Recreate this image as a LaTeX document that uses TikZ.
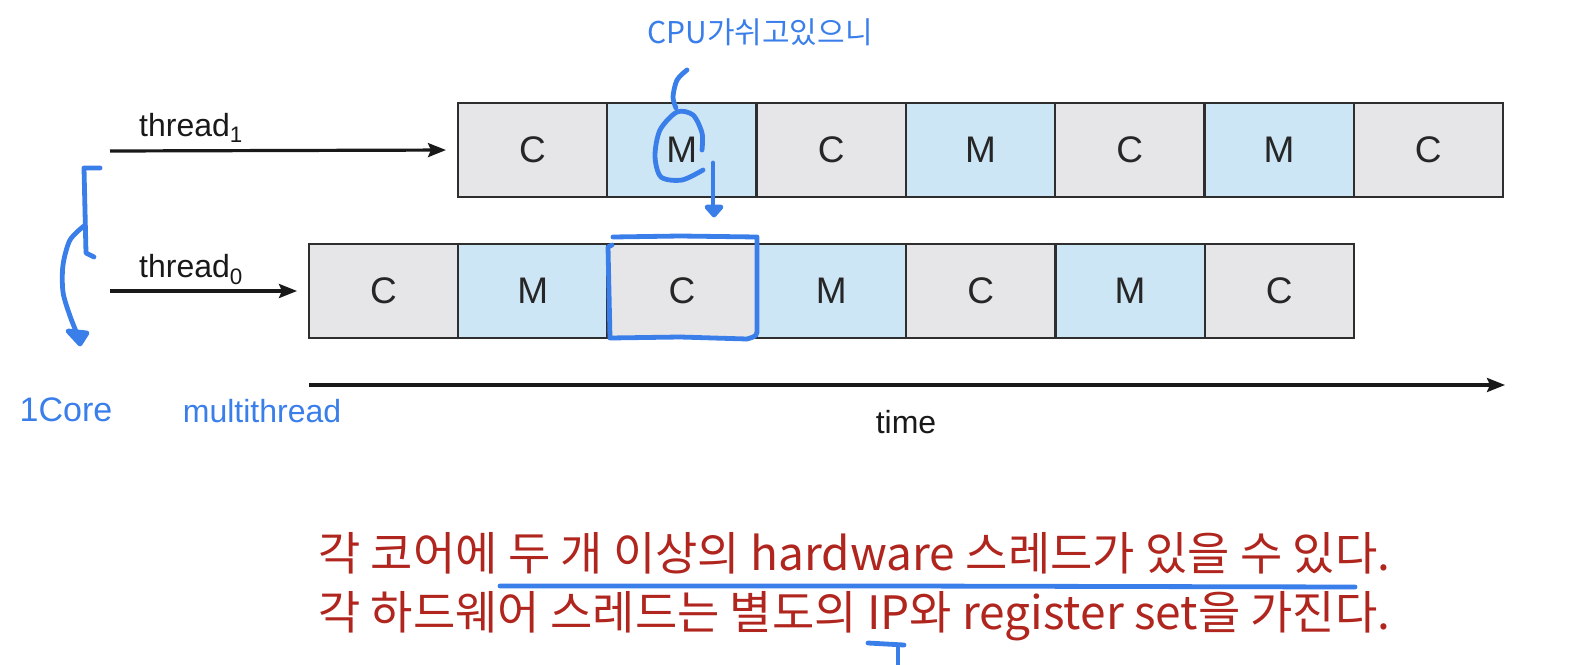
\documentclass[tikz,border=0pt]{standalone}
\usepackage{fontspec}
\setmainfont{Liberation Sans}
\newfontfamily\kr{Noto Sans CJK KR}
\usetikzlibrary{arrows.meta}
\definecolor{cboxc}{HTML}{E6E6E8}
\definecolor{mboxc}{HTML}{CDE6F6}
\definecolor{edgec}{HTML}{2E2E2E}
\definecolor{penblue}{HTML}{3A7EEA}
\definecolor{krred}{HTML}{B0261E}
\begin{document}
\begin{tikzpicture}[x=1pt,y=-1pt,
  cell/.style={draw=edgec,line width=2pt,minimum width=149pt,minimum height=94pt,inner sep=0pt,
    font=\fontsize{37}{40}\selectfont,text=black!85},
  cellC/.style={cell,fill=cboxc},
  cellM/.style={cell,fill=mboxc},
  tarrow/.style={line width=3.2pt,draw=black!90,-{Stealth[length=18pt,width=14pt,inset=3pt]}},
  tlabel/.style={font=\fontsize{32}{36}\selectfont,text=black!90,inner sep=0pt},
  hand/.style={draw=penblue,line width=4.8pt,line cap=round,line join=round},
  handtext/.style={text=penblue,inner sep=0pt},
  krtext/.style={font=\kr\fontsize{46}{52}\selectfont,text=krred,inner sep=0pt,anchor=base west}
]
\useasboundingbox (0,0) rectangle (1571,664);

% thread1 row
\foreach \i/\t in {1/C,2/M,3/C,4/M,5/C,6/M,7/C}{
  \node[cell\t] (a\i) at ({458+149.3*(\i-1)+74.5},150) {\t};
}
% thread0 row
\foreach \i/\t in {1/C,2/M,3/C,4/M,5/C,6/M,7/C}{
  \node[cell\t] (b\i) at ({309+149.3*(\i-1)+74.5},291) {\t};
}

% thread arrows
\coordinate (s1) at (110,151);
\coordinate (s0) at (110,291);
\draw[tarrow,shorten >=11pt] (s1) -- (a1.west);
\draw[tarrow,shorten >=11pt] (s0) -- (b1.west);
\node[tlabel,anchor=base west] (l1) at (139,136) {thread\textsubscript{1}};
\node[tlabel,anchor=base west] (l0) at (139,277) {thread\textsubscript{0}};

% time axis
\coordinate (ta) at (309,385);
\coordinate (tb) at (1505,385);
\draw[tarrow] (ta) -- (tb);
\node[tlabel,anchor=base] (time) at (906,433) {time};

% Korean text
\node[krtext] (k1) at (318,570) {각 코어에 두 개 이상의 hardware 스레드가 있을 수 있다.};
\node[krtext] (k2) at (318,629) {각 하드웨어 스레드는 별도의 IP와 register set을 가진다.};

% handwritten annotations
\node[handtext,font=\kr\fontsize{30}{34}\selectfont] (h1) at (760,32) {CPU가쉬고있으니};
\node[handtext,font=\fontsize{34}{38}\selectfont] (h2) at (66,410) {1Core};
\node[handtext,font=\fontsize{32}{36}\selectfont] (h3) at (262,411) {multithread};

% bracket
\draw[hand] (100,168) -- (84,168) -- (86,253) -- (94,257);
% curved arrow down
\draw[hand] plot[smooth] coordinates {(84,226) (70,240) (63,265) (63,292) (70,316) (78,336)};
\draw[hand,fill=penblue] (68,331) -- (87,333) -- (80,344) -- cycle;

% loop around M with stroke from text
\draw[hand] plot[smooth] coordinates {(687,70) (677,80) (673,97) (676,108)};
\draw[hand] plot[smooth] coordinates {(703,170) (682,180) (661,177) (655,156) (660,130) (677,112) (693,115) (702,133) (702,150)};
% small arrow down
\draw[hand] (713,163) -- (713,207);
\draw[hand,fill=penblue] (707,207) -- (721,207) -- (714,215) -- cycle;
% box around C
\draw[hand] (613,237) -- (680,236) -- (757,237) -- (757,328) .. controls (757,336) .. (747,339) -- (680,337) -- (610,338) -- (608,247) -- (612,245);

% underline and mark
\draw[hand] (500,586) -- (900,586) -- (1355,587);
\draw[hand] (868,643) -- (904,645);
\draw[hand] (898,646) -- (898,664);
\end{tikzpicture}
\end{document}
